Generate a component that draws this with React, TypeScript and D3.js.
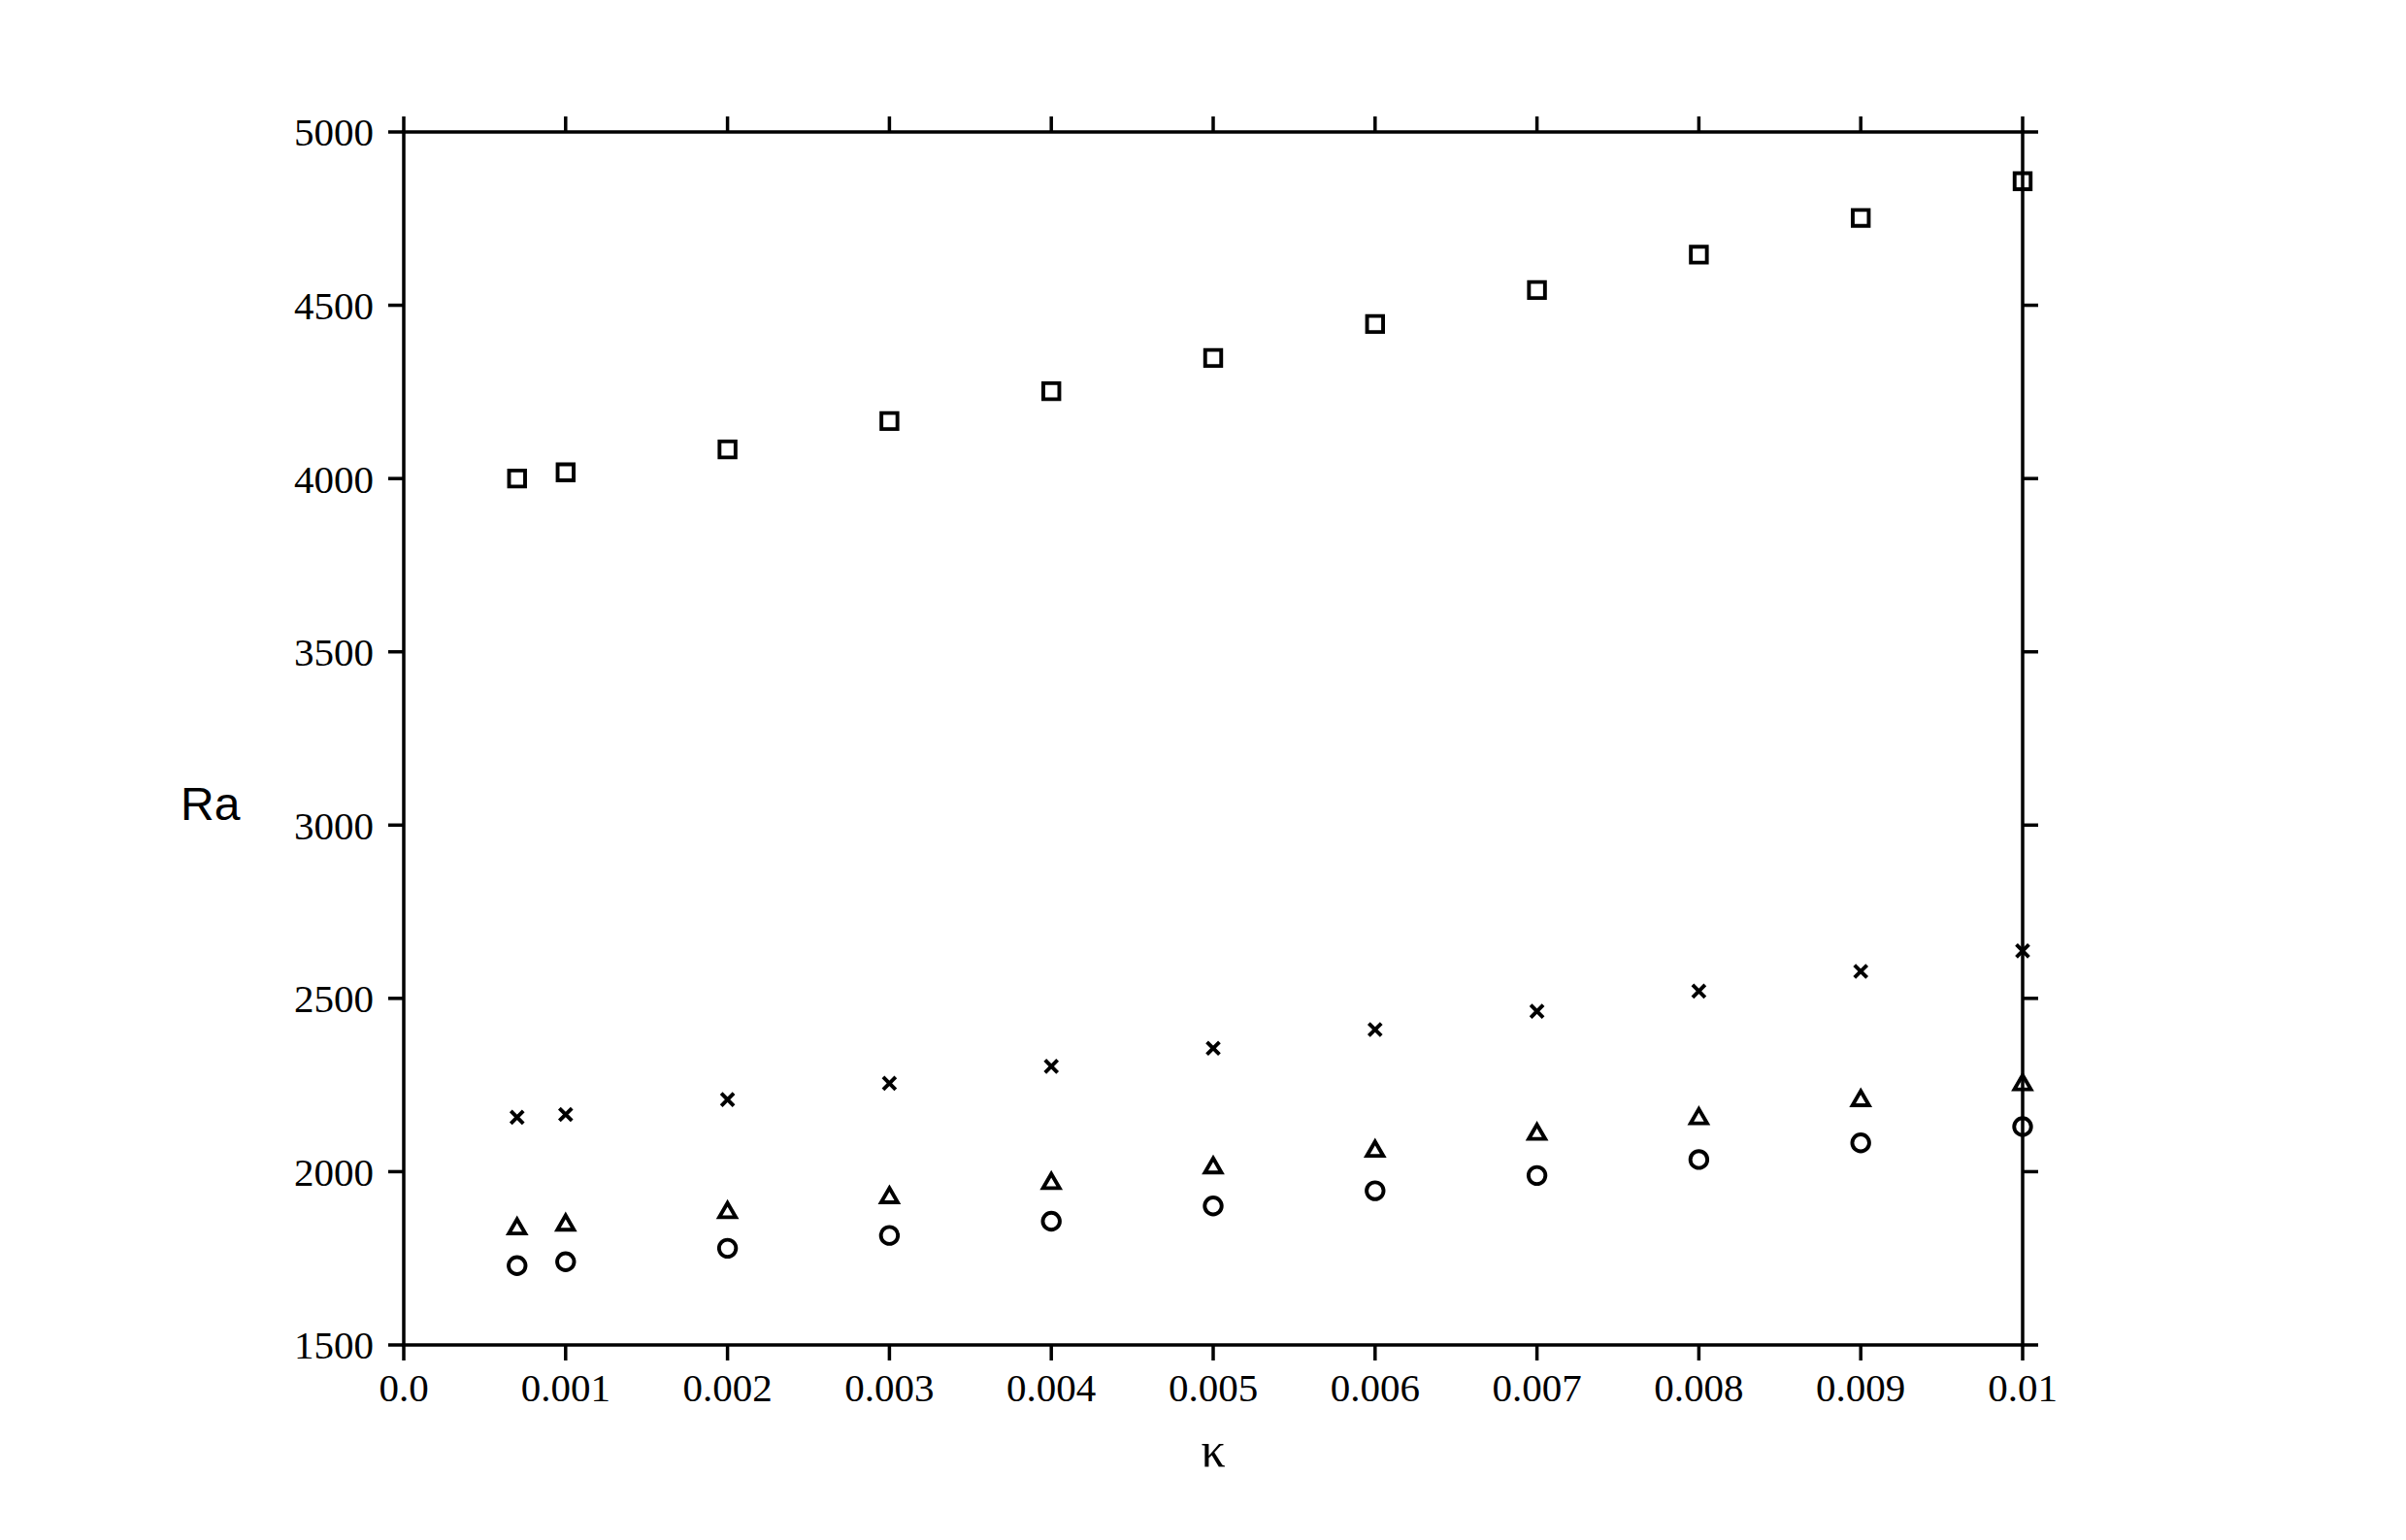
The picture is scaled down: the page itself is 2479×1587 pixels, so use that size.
import * as d3 from 'd3';

const kappa = [0.0007, 0.001, 0.002, 0.003, 0.004, 0.005, 0.006, 0.007, 0.008, 0.009, 0.01];
const raSquare = [4000, 4018, 4084, 4166, 4252, 4348, 4446, 4544, 4646, 4752, 4858];
const raCross = [2157, 2165, 2208, 2255, 2304, 2356, 2410, 2463, 2521, 2578, 2637];
const raTriangle = [1842, 1853, 1889, 1932, 1973, 2018, 2066, 2115, 2160, 2212, 2258];
const raCircle = [1729, 1740, 1779, 1816, 1857, 1901, 1945, 1989, 2035, 2083, 2130];

const xTicks = [0, 0.001, 0.002, 0.003, 0.004, 0.005, 0.006, 0.007, 0.008, 0.009, 0.01];
const xTickLabels = ['0.0', '0.001', '0.002', '0.003', '0.004', '0.005', '0.006', '0.007', '0.008', '0.009', '0.01'];
const yTicks = [1500, 2000, 2500, 3000, 3500, 4000, 4500, 5000];

// dy shifts the triangle so its box (not its centroid) sits on the value
const series = [
  { name: 'square', values: raSquare, type: d3.symbolSquare, size: 272, dy: 0 },
  { name: 'cross', values: raCross, type: d3.symbolTimes, size: 110, dy: 0 },
  { name: 'triangle', values: raTriangle, type: d3.symbolTriangle, size: 125, dy: 2.4 },
  { name: 'circle', values: raCircle, type: d3.symbolCircle, size: 240, dy: 0 },
];

export default function App() {
  const width = 2479;
  const height = 1587;
  const margin = { top: 136, right: 395, bottom: 201, left: 416 };
  const innerWidth = width - margin.left - margin.right;
  const innerHeight = height - margin.top - margin.bottom;

  const x = d3.scaleLinear().domain([0, 0.01]).range([0, innerWidth]);
  const y = d3.scaleLinear().domain([1500, 5000]).range([innerHeight, 0]);

  const tickLen = 16;
  const axisStroke = 3.5;
  const serif = '"Liberation Serif", "Times New Roman", serif';

  return (
    <svg
      width={width}
      height={height}
      viewBox={`0 0 ${width} ${height}`}
      style={{ position: 'absolute', left: 0, top: 0, display: 'block', background: '#fff' }}
    >
      <g transform={`translate(${margin.left},${margin.top})`}>
        <rect x={0} y={0} width={innerWidth} height={innerHeight} fill="none" stroke="#000" strokeWidth={axisStroke} />

        {xTicks.map((t, i) => (
          <g key={`x${t}`} transform={`translate(${x(t)},0)`}>
            <line y1={0} y2={-tickLen} stroke="#000" strokeWidth={axisStroke} />
            <line y1={innerHeight} y2={innerHeight + tickLen} stroke="#000" strokeWidth={axisStroke} />
            <text y={innerHeight + 58} textAnchor="middle" fontFamily={serif} fontSize={41} fill="#000">
              {xTickLabels[i]}
            </text>
          </g>
        ))}

        {yTicks.map((t) => (
          <g key={`y${t}`} transform={`translate(0,${y(t)})`}>
            <line x1={0} x2={-tickLen} stroke="#000" strokeWidth={axisStroke} />
            <line x1={innerWidth} x2={innerWidth + tickLen} stroke="#000" strokeWidth={axisStroke} />
            <text x={-31} dy="0.35em" textAnchor="end" fontFamily={serif} fontSize={41} fill="#000">
              {t}
            </text>
          </g>
        ))}

        {series.map((s) => {
          const path = d3.symbol().type(s.type).size(s.size)() ?? '';
          return (
            <g key={s.name}>
              {s.values.map((v, i) => (
                <path
                  key={i}
                  d={path}
                  transform={`translate(${x(kappa[i])},${y(v) + s.dy})`}
                  fill="none"
                  stroke="#000"
                  strokeWidth={3.9}
                  strokeLinejoin="miter"
                />
              ))}
            </g>
          );
        })}

        <text x={innerWidth / 2} y={innerHeight + 125} textAnchor="middle" fontFamily={serif} fontSize={50} fill="#000">
          κ
        </text>
      </g>

      <text x={186} y={845} fontFamily='"Liberation Sans", Arial, sans-serif' fontSize={48} fill="#000">
        Ra
      </text>
    </svg>
  );
}
